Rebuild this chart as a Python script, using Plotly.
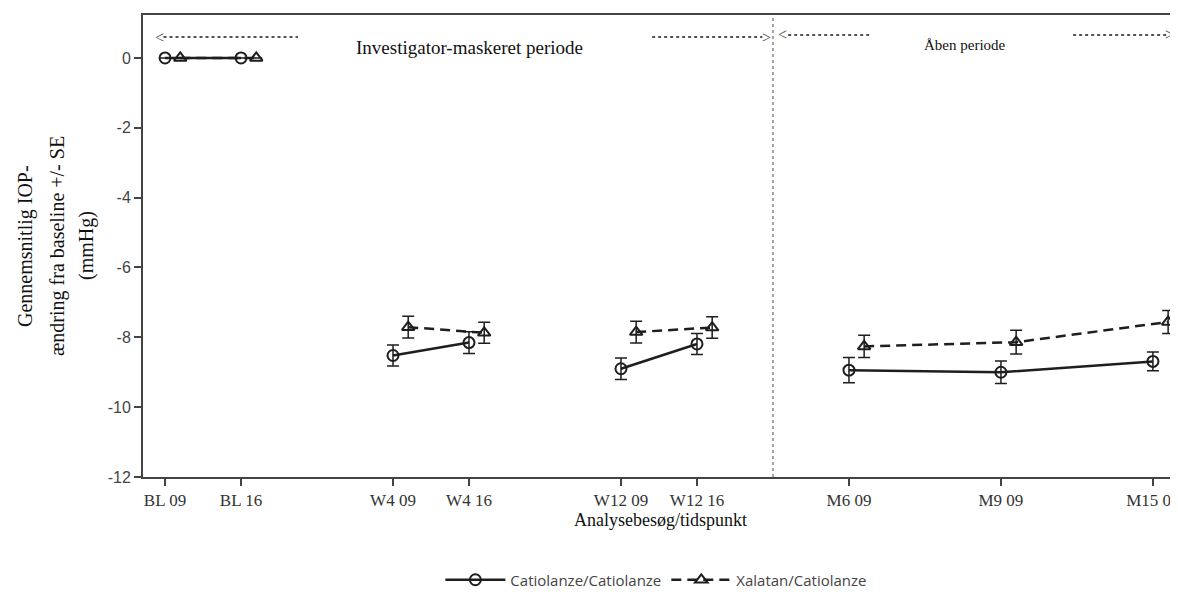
import plotly.graph_objects as go

# ---- data ----
visits = ["BL 09", "BL 16", "W4 09", "W4 16", "W12 09", "W12 16", "M6 09", "M9 09", "M15 09"]
visit_pos = [0, 1, 3, 4, 6, 7, 9, 11, 13]
groups = [[0, 1], [2, 3], [4, 5], [6, 7, 8]]

cat_mean = [0.0, 0.0, -8.52, -8.15, -8.90, -8.19, -8.94, -9.00, -8.69]
cat_se = [None, None, 0.30, 0.31, 0.31, 0.30, 0.36, 0.32, 0.27]
xal_mean = [0.0, 0.0, -7.71, -7.87, -7.85, -7.72, -8.26, -8.14, -7.56]
xal_se = [None, None, 0.31, 0.30, 0.31, 0.31, 0.32, 0.34, 0.33]

period_split = 8
dodge = 0.2

def build(mean, se, offset):
    xs, ys, es = [], [], []
    for g in groups:
        for i in g:
            xs.append(visit_pos[i] + offset)
            ys.append(mean[i])
            es.append(se[i])
        xs.append(None); ys.append(None); es.append(None)
    return xs, ys, es

cx, cy, ce = build(cat_mean, cat_se, 0.0)
xx, xy, xe = build(xal_mean, xal_se, dodge)

LINE = "#1e1e1e"
fig = go.Figure()
fig.add_trace(go.Scatter(
    x=cx, y=cy, mode="lines+markers", name="Catiolanze/Catiolanze",
    line=dict(color=LINE, width=2.5),
    marker=dict(symbol="circle-open", size=11, color=LINE, line=dict(width=2)),
    error_y=dict(type="data", array=ce, visible=True, color=LINE, thickness=1.5, width=6),
    connectgaps=False, cliponaxis=False,
))
fig.add_trace(go.Scatter(
    x=xx, y=xy, mode="lines+markers", name="Xalatan/Catiolanze",
    line=dict(color=LINE, width=2.5, dash="10px,6px"),
    marker=dict(symbol="triangle-up-open", size=11, color=LINE, line=dict(width=2)),
    error_y=dict(type="data", array=xe, visible=True, color=LINE, thickness=1.5, width=6),
    connectgaps=False, cliponaxis=False,
))

# vertical period separator
fig.add_shape(type="line", xref="x", yref="paper", x0=period_split, x1=period_split,
              y0=0, y1=1, line=dict(color="#888", width=1.5, dash="dot"))

# period arrows (dotted lines)
arrow_y1 = 0.60
arrow_y2 = 0.66
for (a, b, yy) in [(-0.02, 1.75, arrow_y1), (6.41, 7.86, arrow_y1),
                   (8.2, 9.28, arrow_y2), (11.95, 13.18, arrow_y2)]:
    fig.add_shape(type="line", xref="x", yref="y", x0=a, x1=b, y0=yy, y1=yy,
                  line=dict(color="#555", width=2, dash="dot"))

serif = "Liberation Serif"
for (xp, yp, t) in [(-0.07, arrow_y1, "<"), (7.91, arrow_y1, ">"),
                    (8.13, arrow_y2, "<"), (13.22, arrow_y2, ">")]:
    fig.add_annotation(x=xp, y=yp, xref="x", yref="y", text=t, showarrow=False,
                       font=dict(family=serif, size=16, color="#555"))

fig.add_annotation(x=4.01, y=0.30, xref="x", yref="y", text="Investigator-maskeret periode",
                   showarrow=False, font=dict(family=serif, size=19, color="#111"))
fig.add_annotation(x=10.53, y=0.36, xref="x", yref="y", text="Åben periode",
                   showarrow=False, font=dict(family=serif, size=15, color="#111"))

# y-axis title (three lines)
for (xpx, t) in [(25, "Gennemsnitlig IOP-"), (57, "ændring fra baseline +/- SE"), (86, "(mmHg)")]:
    fig.add_annotation(x=(xpx - 143) / 1035, y=0.50, xref="paper", yref="paper",
                       text=t, textangle=-90, showarrow=False, xanchor="center", yanchor="middle",
                       font=dict(family=serif, size=20, color="#111"))

# figure is 8px smaller than the window to account for the page's default body margin
fig.update_layout(
    width=1170, height=584,
    margin=dict(l=135, r=0, t=7, b=115, autoexpand=False),
    paper_bgcolor="white", plot_bgcolor="white",
    showlegend=True,
    legend=dict(orientation="h", x=0.496, y=-0.223, xanchor="center", yanchor="middle",
                font=dict(family="Open Sans", size=15, color="#444"), itemwidth=60),
    xaxis=dict(
        range=[-0.29, 13.33], tickmode="array", tickvals=visit_pos, ticktext=visits,
        automargin=False, ticklabeloverflow="allow",
        showgrid=False, zeroline=False, showline=True, linecolor="#444", linewidth=2,
        mirror=True, ticks="outside", ticklen=7, tickcolor="#444", tickwidth=1.5,
        tickfont=dict(family=serif, size=17, color="#333"),
        title=dict(text="Analysebesøg/tidspunkt", standoff=4,
                   font=dict(family=serif, size=18, color="#111")),
    ),
    yaxis=dict(
        range=[-12, 1.23], tickmode="array", tickvals=[0, -2, -4, -6, -8, -10, -12],
        ticktext=["0", "-2", "-4", "-6", "-8", "-10", "-12"], automargin=False,
        showgrid=False, zeroline=False, showline=True, linecolor="#444", linewidth=2,
        ticks="outside", ticklen=7, tickcolor="#444", tickwidth=1.5,
        tickfont=dict(family="Liberation Sans", size=16, color="#444"),
    ),
)

fig.write_html("out.html")
